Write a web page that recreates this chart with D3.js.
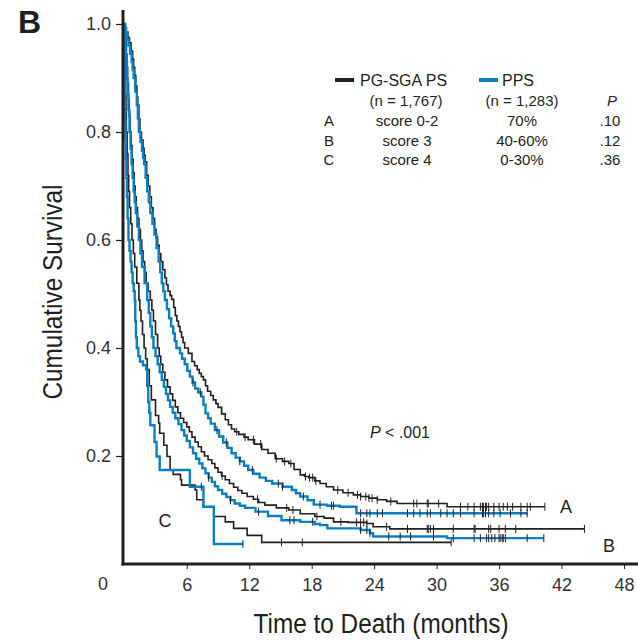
<!DOCTYPE html>
<html>
<head>
<meta charset="UTF-8">
<script src="https://cdn.jsdelivr.net/npm/d3@7/dist/d3.min.js"></script>
<style>
body{
    margin:0;
    background-color:#fff;
    font-family: "Liberation Sans", Arial, Helvetica, sans-serif;
}
.axis text{
    font-size:18px;
    fill:#333;
}
</style>
</head>
<body>
<script>

// Kaplan-Meier curves, [months, cumulative survival]
var pgA = [[0,1],[0.1,0.993],[0.2,0.985],[0.35,0.975],[0.5,0.965],[0.65,0.95],[0.8,0.935],[0.9,0.92],[1.0,0.905],[1.1,0.885],[1.2,0.865],[1.3,0.85],[1.4,0.825],[1.5,0.80],[1.65,0.785],[1.8,0.77],[1.9,0.757],[2.0,0.745],[2.15,0.72],[2.3,0.70],[2.45,0.68],[2.6,0.66],[2.75,0.64],[2.9,0.62],[3.05,0.605],[3.2,0.59],[3.35,0.575],[3.5,0.56],[3.7,0.545],[3.9,0.53],[4.05,0.517],[4.2,0.505],[4.4,0.497],[4.55,0.49],[4.75,0.475],[4.9,0.46],[5.05,0.45],[5.2,0.44],[5.35,0.43],[5.5,0.42],[5.65,0.41],[5.8,0.40],[6.15,0.39],[6.5,0.375],[6.75,0.367],[7.0,0.36],[7.2,0.353],[7.4,0.347],[7.6,0.341],[7.8,0.33],[8.0,0.32],[8.3,0.312],[8.55,0.304],[8.8,0.297],[9.0,0.29],[9.35,0.278],[9.7,0.267],[10.0,0.258],[10.3,0.25],[10.6,0.245],[11.0,0.24],[11.5,0.235],[11.9,0.23],[12.5,0.222],[13.2,0.212],[13.8,0.205],[14.5,0.195],[15.2,0.19],[15.8,0.186],[16.3,0.175],[16.9,0.165],[17.3,0.162],[17.7,0.16],[18.3,0.154],[18.8,0.149],[19.4,0.143],[20.1,0.137],[21.0,0.132],[22.0,0.128],[22.7,0.125],[23.5,0.122],[24.3,0.119],[25.2,0.116],[26.2,0.112],[31.0,0.106],[40.4,0.106]];
var ppsA = [[0,1],[0.08,0.993],[0.15,0.985],[0.28,0.972],[0.4,0.96],[0.55,0.945],[0.7,0.93],[0.8,0.915],[0.9,0.90],[1.05,0.875],[1.2,0.85],[1.3,0.825],[1.4,0.80],[1.55,0.782],[1.7,0.765],[1.8,0.752],[1.9,0.74],[2.05,0.715],[2.2,0.69],[2.35,0.67],[2.5,0.65],[2.7,0.63],[2.9,0.61],[3.1,0.585],[3.3,0.56],[3.45,0.54],[3.6,0.52],[3.75,0.505],[3.9,0.489],[4.1,0.472],[4.3,0.455],[4.5,0.44],[4.7,0.427],[4.85,0.413],[5.0,0.40],[5.35,0.39],[5.55,0.38],[5.8,0.37],[6.05,0.358],[6.3,0.347],[6.55,0.336],[6.8,0.325],[7.1,0.318],[7.4,0.31],[7.6,0.295],[7.8,0.279],[8.05,0.27],[8.3,0.26],[8.7,0.248],[9.1,0.236],[9.5,0.225],[9.9,0.215],[10.3,0.205],[10.7,0.197],[11.1,0.19],[11.5,0.182],[11.9,0.174],[12.4,0.167],[13.0,0.16],[13.6,0.154],[14.2,0.149],[15.2,0.143],[16.1,0.137],[16.5,0.131],[16.9,0.125],[17.6,0.118],[18.2,0.11],[19.5,0.108],[20.7,0.106],[22.3,0.094],[38.7,0.094]];
var pgB = [[0,1],[0.05,0.985],[0.1,0.97],[0.17,0.945],[0.25,0.92],[0.32,0.89],[0.4,0.86],[0.47,0.83],[0.55,0.80],[0.65,0.775],[0.75,0.75],[0.85,0.725],[0.95,0.70],[1.05,0.68],[1.15,0.66],[1.27,0.64],[1.4,0.62],[1.55,0.60],[1.68,0.58],[1.8,0.56],[1.95,0.54],[2.1,0.52],[2.3,0.505],[2.5,0.489],[2.65,0.47],[2.8,0.45],[3.0,0.425],[3.2,0.40],[3.35,0.385],[3.5,0.37],[3.7,0.355],[3.9,0.341],[4.15,0.328],[4.4,0.315],[4.65,0.303],[4.9,0.291],[5.15,0.28],[5.4,0.27],[5.7,0.262],[6.0,0.254],[6.25,0.245],[6.5,0.235],[6.8,0.226],[7.1,0.217],[7.4,0.208],[7.7,0.20],[8.05,0.193],[8.4,0.186],[8.7,0.178],[9.0,0.17],[9.35,0.163],[9.7,0.156],[10.1,0.149],[10.5,0.142],[10.9,0.136],[11.3,0.131],[11.8,0.125],[12.4,0.12],[12.9,0.114],[13.5,0.109],[14.6,0.104],[15.8,0.10],[16.9,0.093],[18.3,0.088],[19.2,0.085],[20.1,0.078],[21.5,0.077],[23.3,0.075],[23.9,0.069],[25.5,0.065],[44.2,0.065]];
var ppsB = [[0,1],[0.05,0.98],[0.1,0.96],[0.17,0.93],[0.25,0.90],[0.32,0.87],[0.4,0.84],[0.5,0.80],[0.6,0.77],[0.7,0.74],[0.8,0.715],[0.9,0.69],[1.0,0.67],[1.1,0.65],[1.25,0.625],[1.4,0.60],[1.55,0.575],[1.7,0.55],[1.95,0.52],[2.2,0.489],[2.35,0.465],[2.5,0.44],[2.65,0.42],[2.8,0.40],[3.0,0.385],[3.2,0.37],[3.4,0.355],[3.6,0.341],[3.8,0.328],[4.0,0.315],[4.2,0.303],[4.4,0.291],[4.65,0.28],[4.9,0.27],[5.2,0.259],[5.5,0.248],[5.75,0.238],[6.0,0.228],[6.3,0.216],[6.6,0.205],[6.9,0.195],[7.2,0.186],[7.5,0.177],[7.8,0.168],[8.1,0.16],[8.4,0.152],[8.7,0.144],[9.0,0.137],[9.4,0.13],[9.8,0.124],[10.2,0.118],[10.6,0.112],[11.1,0.108],[11.6,0.104],[12.6,0.097],[13.8,0.089],[15.1,0.081],[16.9,0.078],[18.3,0.074],[18.8,0.072],[19.5,0.066],[22.7,0.063],[23.6,0.057],[23.9,0.051],[31.0,0.048],[40.3,0.048]];
var pgC = [[0,1],[0.03,0.96],[0.05,0.93],[0.08,0.90],[0.12,0.87],[0.16,0.835],[0.2,0.80],[0.27,0.76],[0.35,0.72],[0.42,0.69],[0.5,0.66],[0.62,0.63],[0.74,0.60],[0.87,0.575],[1.0,0.55],[1.2,0.52],[1.4,0.489],[1.5,0.47],[1.6,0.45],[1.75,0.425],[1.9,0.40],[2.05,0.38],[2.2,0.36],[2.4,0.33],[2.6,0.304],[3.0,0.275],[3.3,0.261],[3.4,0.242],[3.8,0.22],[4.1,0.199],[4.4,0.174],[4.7,0.166],[5.4,0.156],[5.5,0.146],[6.8,0.137],[6.96,0.119],[7.6,0.106],[8.6,0.088],[9.7,0.078],[10.5,0.066],[11.8,0.053],[13.2,0.040],[31.4,0.040]];
var ppsC = [[0,1],[0.02,0.95],[0.03,0.90],[0.05,0.86],[0.08,0.82],[0.11,0.785],[0.15,0.75],[0.2,0.715],[0.25,0.68],[0.32,0.64],[0.4,0.60],[0.5,0.58],[0.6,0.56],[0.7,0.54],[0.8,0.52],[0.9,0.505],[1.0,0.489],[1.05,0.45],[1.12,0.42],[1.2,0.40],[1.35,0.385],[1.5,0.375],[1.8,0.368],[2.1,0.36],[2.2,0.33],[2.3,0.30],[2.4,0.28],[2.5,0.257],[2.9,0.226],[3.1,0.199],[3.4,0.174],[6.3,0.143],[7.6,0.106],[8.6,0.037],[11.4,0.037]];

// censoring marks (months)
var pgA_cens = [10.8,11.6,12.4,13.1,14.6,15.4,16.0,17.4,17.8,18.1,18.4,20.5,21.5,22.4,22.7,23.2,23.5,23.8,24.3,25.6,27.8,28.1,29.1,29.2,30.2,32.3,33.0,33.6,34.2,34.4,34.5,34.7,34.8,35.0,35.5,36.0,36.4,36.8,37.3,38.1,38.7,39.0,40.4];
var ppsA_cens = [6.6,7.3,8.9,9.8,11.1,12.3,14.8,15.2,17.2,18.8,19.9,20.1,22.7,23.3,23.6,24.3,24.8,27.2,27.8,28.4,29.1,29.4,30.4,31.0,31.6,32.3,33.6,34.4,34.5,34.7,35.0,35.5,36.1,37.1,38.1,38.7];
var pgB_cens = [9.4,12.8,15.6,16.2,18.5,20.8,22.3,22.7,23.0,23.3,25.2,27.2,29.1,29.2,29.4,29.7,31.6,33.6,33.7,35.0,35.2,36.0,36.6,37.6,44.2];
var ppsB_cens = [8.1,10.2,12.9,15.9,16.3,18.1,22.7,23.3,23.6,25.4,26.5,27.5,29.7,31.6,33.6,34.2,34.8,35.0,35.3,35.6,36.0,36.1,36.3,36.4,36.6,38.7,40.3];
var pgC_cens = [15.1,17.1,31.4];
var ppsC_cens = [7.4,11.4];

var xTicks = [6,12,18,24,30,36,42,48];
var yTicks = [0.2,0.4,0.6,0.8,1.0];
var legendRows = [["A","score 0-2","70%",".10"],["B","score 3","40-60%",".12"],["C","score 4","0-30%",".36"]];

var black = "#231f20", blue = "#0a7fc4";

var width = 638, height = 640;
var x = d3.scaleLinear().domain([0,48]).range([124.3,624]);
var y = d3.scaleLinear().domain([0,1]).range([564,24]);

var svg = d3.select("body").append("svg")
    .attr("width",width)
    .attr("height",height);

// curves
var line = d3.line()
    .x(function(d){ return x(d[0]); })
    .y(function(d){ return y(d[1]); })
    .curve(d3.curveStepAfter);

var series = [
    {data:pgA, cens:pgA_cens, color:black, w:1.6},
    {data:pgB, cens:pgB_cens, color:black, w:1.6},
    {data:pgC, cens:pgC_cens, color:black, w:1.6},
    {data:ppsA, cens:ppsA_cens, color:blue, w:2.4},
    {data:ppsB, cens:ppsB_cens, color:blue, w:2.4},
    {data:ppsC, cens:ppsC_cens, color:blue, w:2.4}
];

// value of a step curve at time t
function survAt(data, t){
    var s = data[0][1];
    for (var i=0;i<data.length;i++){ if (data[i][0] <= t) s = data[i][1]; }
    return s;
}

series.forEach(function(sr){
    svg.append("path")
        .attr("d", line(sr.data))
        .attr("fill","none")
        .attr("stroke", sr.color)
        .attr("stroke-width", sr.w)
        .attr("stroke-linejoin","miter");
    svg.selectAll(null)
        .data(sr.cens)
        .enter().append("line")
        .attr("x1",function(d){ return x(d); })
        .attr("x2",function(d){ return x(d); })
        .attr("y1",function(d){ return y(survAt(sr.data,d)) - 4; })
        .attr("y2",function(d){ return y(survAt(sr.data,d)) + 4; })
        .attr("stroke", black)
        .attr("stroke-width",1);
});

// axes
var gX = svg.append("g")
    .attr("class","axis")
    .attr("transform","translate(0,564)")
    .call(d3.axisBottom(x).tickValues(xTicks).tickSize(5).tickPadding(9).tickSizeOuter(0));
gX.select(".domain").remove();
gX.selectAll(".tick line").attr("stroke",black);

var gY = svg.append("g")
    .attr("class","axis")
    .attr("transform","translate(123,0)")
    .call(d3.axisLeft(y).tickValues(yTicks).tickFormat(d3.format(".1f")).tickSize(7).tickPadding(5).tickSizeOuter(0));
gY.select(".domain").remove();
gY.selectAll(".tick line").attr("stroke",black).attr("stroke-width",1.2);

svg.append("line")
    .attr("x1",123).attr("x2",123).attr("y1",10).attr("y2",565.5)
    .attr("stroke",black).attr("stroke-width",3);
svg.append("line")
    .attr("x1",121.5).attr("x2",638).attr("y1",564).attr("y2",564)
    .attr("stroke",black).attr("stroke-width",3);

svg.append("text")
    .attr("x",103).attr("y",590)
    .attr("text-anchor","middle")
    .attr("font-size",18).attr("fill","#333")
    .text("0");

// axis titles
svg.append("text")
    .attr("x",381).attr("y",633)
    .attr("text-anchor","middle")
    .attr("font-size",27).attr("fill",black)
    .attr("textLength",255).attr("lengthAdjust","spacingAndGlyphs")
    .text("Time to Death (months)");

svg.append("text")
    .attr("transform","translate(62,292) rotate(-90)")
    .attr("text-anchor","middle")
    .attr("font-size",27).attr("fill",black)
    .attr("textLength",215).attr("lengthAdjust","spacingAndGlyphs")
    .text("Cumulative Survival");

// panel letter
svg.append("text")
    .attr("x",18).attr("y",33)
    .attr("font-size",32).attr("font-weight","bold").attr("fill",black)
    .text("B");

// legend
svg.append("line").attr("x1",335).attr("x2",354).attr("y1",80).attr("y2",80)
    .attr("stroke",black).attr("stroke-width",4);
svg.append("text").attr("x",360).attr("y",86).attr("font-size",16).attr("fill",black).text("PG-SGA PS");
svg.append("line").attr("x1",479).attr("x2",498).attr("y1",80).attr("y2",80)
    .attr("stroke",blue).attr("stroke-width",4);
svg.append("text").attr("x",502).attr("y",86).attr("font-size",16).attr("fill",black).text("PPS");

svg.append("text").attr("x",406).attr("y",106).attr("text-anchor","middle").attr("font-size",15).attr("fill",black).text("(n = 1,767)");
svg.append("text").attr("x",522).attr("y",106).attr("text-anchor","middle").attr("font-size",15).attr("fill",black).text("(n = 1,283)");
svg.append("text").attr("x",612).attr("y",106).attr("text-anchor","middle").attr("font-size",15).attr("font-style","italic").attr("fill",black).text("P");

var colX = [329,407,522,610];
legendRows.forEach(function(r,i){
    r.forEach(function(t,j){
        svg.append("text")
            .attr("x",colX[j]).attr("y",126 + i*19.5)
            .attr("text-anchor","middle")
            .attr("font-size",15).attr("fill",black)
            .text(t);
    });
});

// annotations
var pTxt = svg.append("text").attr("x",400).attr("y",438).attr("text-anchor","middle")
    .attr("font-size",16).attr("fill",black);
pTxt.append("tspan").attr("font-style","italic").text("P");
pTxt.append("tspan").text(" < .001");

svg.append("text").attr("x",566).attr("y",513).attr("text-anchor","middle").attr("font-size",18).attr("fill",black).text("A");
svg.append("text").attr("x",609).attr("y",552).attr("text-anchor","middle").attr("font-size",18).attr("fill",black).text("B");
svg.append("text").attr("x",165).attr("y",527).attr("text-anchor","middle").attr("font-size",18).attr("fill",black).text("C");

</script>
</body>
</html>
